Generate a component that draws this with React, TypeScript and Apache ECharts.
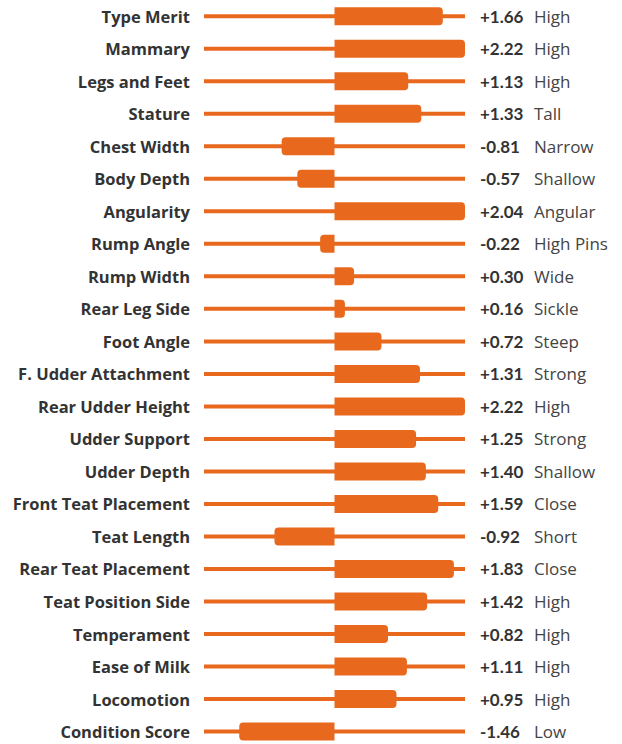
import React, { useEffect, useRef } from "react";
import * as echarts from "echarts";

const traits = [
  "Type Merit", "Mammary", "Legs and Feet", "Stature", "Chest Width", "Body Depth",
  "Angularity", "Rump Angle", "Rump Width", "Rear Leg Side", "Foot Angle",
  "F. Udder Attachment", "Rear Udder Height", "Udder Support", "Udder Depth",
  "Front Teat Placement", "Teat Length", "Rear Teat Placement", "Teat Position Side",
  "Temperament", "Ease of Milk", "Locomotion", "Condition Score",
];
const values = [
  1.66, 2.22, 1.13, 1.33, -0.81, -0.57, 2.04, -0.22, 0.3, 0.16, 0.72, 1.31, 2.22,
  1.25, 1.4, 1.59, -0.92, 1.83, 1.42, 0.82, 1.11, 0.95, -1.46,
];
const descriptors = [
  "High", "High", "High", "Tall", "Narrow", "Shallow", "Angular", "High Pins", "Wide",
  "Sickle", "Steep", "Strong", "High", "Strong", "Shallow", "Close", "Short", "Close",
  "High", "High", "High", "High", "Low",
];
const axisMin = -2;
const axisMax = 2;

const ORANGE = "#E8691E";

export default function App() {
  const ref = useRef<HTMLDivElement>(null);
  useEffect(() => {
    if (!ref.current) return;
    const chart = echarts.init(ref.current, undefined, { renderer: "svg" });
    const fmt = (v: number) => (v >= 0 ? "+" : "") + v.toFixed(2);
    chart.setOption({
      animation: false,
      grid: { left: 204, right: 157, top: -0.8, height: 748.6, containLabel: false },
      xAxis: {
        type: "value",
        min: axisMin,
        max: axisMax,
        show: false,
      },
      yAxis: [
        {
          type: "category",
          data: traits,
          inverse: true,
          position: "left",
          axisLine: { show: false },
          axisTick: { show: false },
          splitLine: { show: false },
          axisLabel: {
            margin: 14,
            fontFamily: "Open Sans",
            fontWeight: "bold",
            fontSize: 16.5,
            color: "#333333",
          },
        },
        {
          type: "category",
          data: traits,
          inverse: true,
          position: "right",
          axisLine: { show: false },
          axisTick: { show: false },
          splitLine: { show: false },
          axisLabel: {
            margin: 15,
            formatter: (_v: string, i: number) => `{v|${fmt(values[i])}}{d|${descriptors[i]}}`,
            rich: {
              v: {
                width: 54,
                fontFamily: "Lato",
                fontWeight: "bold",
                fontSize: 17,
                color: "#333333",
              },
              d: {
                fontFamily: "Open Sans",
                fontSize: 17,
                color: "#444444",
              },
            },
          },
        },
      ],
      series: [
        {
          type: "custom",
          clip: false,
          encode: { x: 0, y: 1 },
          data: values.map((v, i) => [v, i]),
          renderItem: (params: any, api: any) => {
            const v = api.value(0);
            const idx = api.value(1);
            const cv = Math.max(axisMin, Math.min(axisMax, v));
            const left = api.coord([axisMin, idx]);
            const right = api.coord([axisMax, idx]);
            const zero = api.coord([0, idx]);
            const end = api.coord([cv, idx]);
            const cy = zero[1];
            const lh = 4;
            const bh = 18;
            const x0 = Math.min(zero[0], end[0]);
            const w = Math.abs(end[0] - zero[0]);
            const r = Math.min(4, w / 2);
            return {
              type: "group",
              children: [
                {
                  type: "rect",
                  shape: { x: left[0], y: cy - lh / 2, width: right[0] - left[0], height: lh },
                  style: { fill: ORANGE },
                },
                {
                  type: "rect",
                  shape: {
                    x: x0,
                    y: cy - bh / 2,
                    width: w,
                    height: bh,
                    r: v >= 0 ? [0, r, r, 0] : [r, 0, 0, r],
                  },
                  style: { fill: ORANGE },
                },
              ],
            };
          },
        },
      ],
    });
    return () => chart.dispose();
  }, []);
  return (
    <div
      style={{ position: "absolute", left: 0, top: 0, width: 622, height: 744, overflow: "hidden" }}
    >
      <div ref={ref} style={{ width: 622, height: 760 }} />
    </div>
  );
}
